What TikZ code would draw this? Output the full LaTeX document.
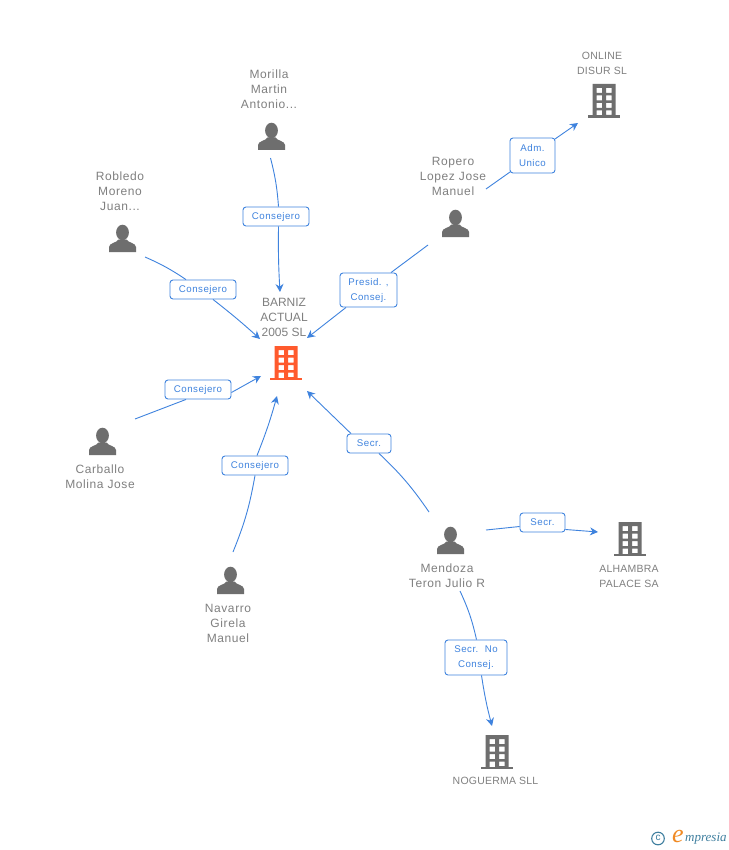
\documentclass[tikz,border=0pt]{standalone}
\usepackage{fontspec}
\usetikzlibrary{arrows.meta}
\setmainfont{Liberation Sans}
\newfontfamily\logofont{Liberation Serif}
\definecolor{txtgray}{HTML}{808080}
\definecolor{icongray}{HTML}{6E6E6E}
\definecolor{edgeblue}{HTML}{3F83DE}
\definecolor{corange}{HTML}{FF5A2D}
\definecolor{logoblue}{HTML}{3F7F9F}
\definecolor{logoorange}{HTML}{F08A24}
\tikzset{
  persontext/.style={text=txtgray,align=center,inner sep=0pt,font=\addfontfeature{LetterSpace=5}\fontsize{12}{15}\selectfont},
  cotext/.style={text=txtgray,align=center,inner sep=0pt,font=\addfontfeature{LetterSpace=2}\fontsize{10.5}{15}\selectfont},
  maintext/.style={text=txtgray,align=center,inner sep=0pt,font=\fontsize{12}{15}\selectfont},
  rolebox/.style={draw=edgeblue,line width=0.9pt,rounded corners=3pt,fill=white,text=edgeblue,align=center,inner sep=0pt,font=\addfontfeature{LetterSpace=5}\fontsize{9.7}{15}\selectfont},
  link/.style={edgeblue,line width=0.9pt},
  arrowlink/.style={link,-{Stealth[length=8pt,width=8pt]}},
  pics/personicon/.style={code={
    \fill[icongray] (0,-6) ellipse[x radius=6.4,y radius=7.8];
    \fill[icongray] (-13.5,13.5) -- (-13.5,8.5) .. controls (-13.5,4.5) and (-6,4.5) .. (-4,1)
      -- (4,1) .. controls (6,4.5) and (13.5,4.5) .. (13.5,8.5) -- (13.5,13.5) -- cycle;
  }},
  pics/buildicon/.style={code={
    \fill[#1,even odd rule] (-11.5,0) rectangle (11.5,32)
      (-7.5,4) rectangle (-2,9) (2,4) rectangle (7.5,9)
      (-7.5,11.5) rectangle (-2,16.5) (2,11.5) rectangle (7.5,16.5)
      (-7.5,19) rectangle (-2,24) (2,19) rectangle (7.5,24)
      (-7.5,26.5) rectangle (-2,32) (2,26.5) rectangle (7.5,31);
    \fill[#1] (-16,31.5) rectangle (16,34);
  }},
}
\begin{document}
\begin{tikzpicture}[x=1pt,y=-1pt]
\useasboundingbox (0,0) rectangle (728,850);
\fill[white] (0,0) rectangle (728,850);

% icons
\pic (pmorilla) at (271.5,136.5) {personicon};
\pic (probledo) at (122.5,238.5) {personicon};
\pic (pcarballo) at (102.5,441.5) {personicon};
\pic (pnavarro) at (230.5,580.5) {personicon};
\pic (propero) at (455.5,223.5) {personicon};
\pic (pmendoza) at (450.5,540.5) {personicon};
\pic (bmain) at (286,346) {buildicon={corange}};
\pic (bonline) at (604,84) {buildicon={icongray}};
\pic (balhambra) at (630,522) {buildicon={icongray}};
\pic (bnoguerma) at (497,735) {buildicon={icongray}};

% texts
\node[persontext] (tmorilla) at (269,89) {Morilla\\Martin\\Antonio...};
\node[persontext] (trobledo) at (120,191) {Robledo\\Moreno\\Juan...};
\node[persontext] (tcarballo) at (100,477) {Carballo\\Molina Jose};
\node[persontext] (tnavarro) at (228,623) {Navarro\\Girela\\Manuel};
\node[persontext] (tropero) at (453,176) {Ropero\\Lopez Jose\\Manuel};
\node[persontext] (tmendoza) at (447,576) {Mendoza\\Teron Julio R};
\node[maintext] (tmain) at (284,317) {BARNIZ\\ACTUAL\\2005 SL};
\node[cotext] (tonline) at (602,63) {ONLINE\\DISUR SL};
\node[cotext] (talhambra) at (629,576) {ALHAMBRA\\PALACE SA};
\node[cotext] (tnoguerma) at (495.5,781) {NOGUERMA SLL};

% role labels
\node[rolebox,minimum width=66pt,minimum height=19pt] (lmorilla) at (276,216.5) {Consejero};
\node[rolebox,minimum width=66pt,minimum height=19pt] (lrobledo) at (203,289.5) {Consejero};
\node[rolebox,minimum width=66pt,minimum height=19pt] (lcarballo) at (198,389.5) {Consejero};
\node[rolebox,minimum width=66pt,minimum height=19pt] (lnavarro) at (255,465.5) {Consejero};
\node[rolebox,minimum width=44pt,minimum height=19pt] (lmsecr) at (369,443.5) {Secr.};
\node[rolebox,minimum width=57pt,minimum height=34pt] (lpresid) at (368.5,290) {Presid. ,\\Consej.};
\node[rolebox,minimum width=45pt,minimum height=35pt] (ladm) at (532.5,155.5) {Adm.\\Unico};
\node[rolebox,minimum width=45pt,minimum height=19pt] (lasecr) at (542.5,522.5) {Secr.};
\node[rolebox,minimum width=62pt,minimum height=35pt] (lnosecr) at (476,657.5) {Secr.\ \ No\\Consej.};

% free ends of connectors
\coordinate (smorilla) at (270.5,158);
\coordinate (emorilla) at (280,292);
\coordinate (srobledo) at (145,257);
\coordinate (erobledo) at (260,339);
\coordinate (scarballo) at (135,419);
\coordinate (ecarballo) at (261,376);
\coordinate (snavarro) at (233,552);
\coordinate (enavarro) at (277,396);
\coordinate (smendoza) at (429,512);
\coordinate (emendoza) at (307,391);
\coordinate (sropero) at (428,245);
\coordinate (eropero) at (307,338);
\coordinate (sonline) at (486,189);
\coordinate (eonline) at (578,123);
\coordinate (salh) at (486,530);
\coordinate (ealh) at (598,532);
\coordinate (snog) at (460,591);
\coordinate (enog) at (492,726);

% connectors
\draw[link] (smorilla) to[bend left=5] ([xshift=2.5pt]lmorilla.north);
\draw[arrowlink] ([xshift=2.5pt]lmorilla.south) to[bend right=2] (emorilla);
\draw[link] (srobledo) to[bend left=5] ([xshift=-17pt]lrobledo.north);
\draw[arrowlink] ([xshift=10pt]lrobledo.south) to[bend left=2] (erobledo);
\draw[link] (scarballo) -- ([xshift=-12pt]lcarballo.south);
\draw[arrowlink] ([yshift=-3pt]lcarballo.east) -- (ecarballo);
\draw[link] (snavarro) to[bend right=6] (lnavarro.south);
\draw[arrowlink] ([xshift=2pt]lnavarro.north) to[bend right=3] (enavarro);
\draw[link] (smendoza) to[bend right=6] ([xshift=10pt]lmsecr.south);
\draw[arrowlink] ([xshift=-18pt]lmsecr.north) -- (emendoza);
\draw[link] (sropero) -- ([xshift=22.5pt]lpresid.north);
\draw[arrowlink] ([xshift=-22.5pt]lpresid.south) -- (eropero);
\draw[link] (sonline) -- ([xshift=-22.5pt,yshift=-16.5pt]ladm.center);
\draw[arrowlink] ([xshift=22.5pt,yshift=16.5pt]ladm.center) -- (eonline);
\draw[link] (salh) -- ([yshift=-4pt]lasecr.west);
\draw[arrowlink] ([yshift=-7pt]lasecr.east) -- (ealh);
\draw[link] (snog) to[bend left=6] ([xshift=0.5pt]lnosecr.north);
\draw[arrowlink] ([xshift=5.5pt]lnosecr.south) to[bend right=3] (enog);

% logo
\draw[logoblue,line width=1.1pt] (658,838.5) circle[radius=6.3];
\node[text=logoblue,inner sep=0pt,font=\fontsize{10}{10}\selectfont] (logoc) at (658,838) {c};
\node[text=logoorange,inner sep=0pt,font=\logofont\itshape\fontsize{26}{26}\selectfont] (logoe) at (678,836) {e};
\node[text=logoblue,inner sep=0pt,anchor=west,font=\logofont\itshape\fontsize{13}{13}\selectfont] (logom) at (685,839) {mpresia};
\end{tikzpicture}
\end{document}
